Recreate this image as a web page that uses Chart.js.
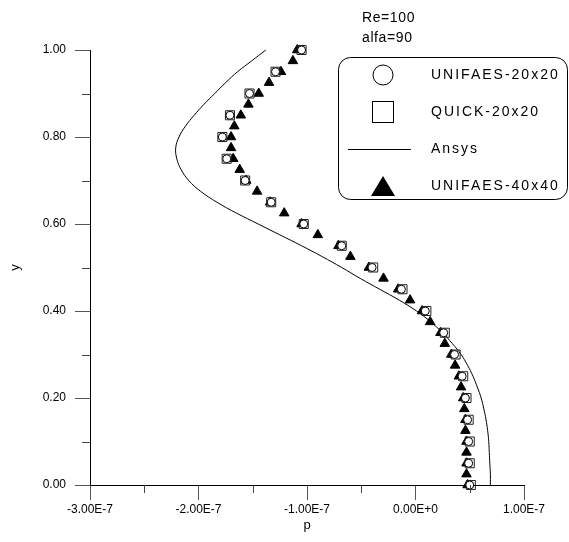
<!DOCTYPE html>
<html>
<head>
<meta charset="utf-8">
<script src="https://cdn.jsdelivr.net/npm/chart.js@4/dist/chart.umd.min.js"></script>
<style>
html, body { margin: 0; padding: 0; background: #fff; }
#wrap { position: relative; width: 569px; height: 542px; }
</style>
</head>
<body>
<div id="wrap"><canvas id="profile"></canvas></div>
<script>
// p values are in units of 1E-7
const Y_COARSE = [0, 0.05, 0.10, 0.15, 0.20, 0.25, 0.30, 0.35, 0.40, 0.45, 0.50,
    0.55, 0.60, 0.65, 0.70, 0.75, 0.80, 0.85, 0.90, 0.95, 1.00];
const P_UNIFAES_20 = [0.50, 0.49, 0.49, 0.48, 0.46, 0.43, 0.36, 0.26, 0.09, -0.13, -0.40,
    -0.68, -1.03, -1.33, -1.57, -1.74, -1.78, -1.71, -1.53, -1.29, -1.05];
const P_QUICK_20 = [0.51, 0.50, 0.50, 0.49, 0.47, 0.44, 0.37, 0.27, 0.10, -0.12, -0.39,
    -0.68, -1.03, -1.33, -1.57, -1.74, -1.78, -1.71, -1.53, -1.29, -1.05];

const Y_FINE = [0, 0.025, 0.05, 0.075, 0.10, 0.125, 0.15, 0.175, 0.20, 0.225, 0.25,
    0.275, 0.30, 0.325, 0.35, 0.375, 0.40, 0.425, 0.45, 0.475, 0.50,
    0.525, 0.55, 0.575, 0.60, 0.625, 0.65, 0.675, 0.70, 0.725, 0.75,
    0.775, 0.80, 0.825, 0.85, 0.875, 0.90, 0.925, 0.95, 0.975, 1.00];
const P_UNIFAES_40 = [0.48, 0.47, 0.47, 0.47, 0.47, 0.46, 0.46, 0.45, 0.44, 0.42, 0.40,
    0.365, 0.33, 0.27, 0.23, 0.135, 0.06, -0.05, -0.16, -0.295, -0.43,
    -0.60, -0.71, -0.90, -1.05, -1.21, -1.34, -1.46, -1.56, -1.62, -1.68,
    -1.70, -1.70, -1.67, -1.61, -1.54, -1.445, -1.35, -1.24, -1.13, -1.09];

const Y_ANSYS = [0, 0.025, 0.05, 0.075, 0.10, 0.125, 0.15, 0.175, 0.20, 0.225, 0.25,
    0.275, 0.30, 0.325, 0.35, 0.375, 0.40, 0.425, 0.45, 0.475, 0.50,
    0.525, 0.55, 0.575, 0.60, 0.625, 0.65, 0.675, 0.70, 0.725, 0.75,
    0.775, 0.80, 0.825, 0.85, 0.875, 0.90, 0.925, 0.95, 0.975, 1.00];
const P_ANSYS = [0.69, 0.69, 0.685, 0.68, 0.675, 0.665, 0.65, 0.63, 0.605, 0.57, 0.53,
    0.48, 0.42, 0.34, 0.25, 0.14, 0.01, -0.15, -0.33, -0.51, -0.68,
    -0.86, -1.05, -1.25, -1.45, -1.65, -1.83, -1.98, -2.09, -2.16, -2.20,
    -2.21, -2.18, -2.12, -2.04, -1.95, -1.85, -1.75, -1.64, -1.51, -1.38];

const X_TICKS = [-3, -2, -1, 0, 1];
const X_TICK_LABELS = ['-3.00E-7', '-2.00E-7', '-1.00E-7', '0.00E+0', '1.00E-7'];
const X_MINOR = [-2.5, -1.5, -0.5, 0.5];
const Y_TICKS = [0, 0.2, 0.4, 0.6, 0.8, 1.0];
const Y_TICK_LABELS = ['0.00', '0.20', '0.40', '0.60', '0.80', '1.00'];
const Y_MINOR = [0.1, 0.3, 0.5, 0.7, 0.9];

const SERIES_NAMES = ['UNIFAES-20x20', 'QUICK-20x20', 'Ansys', 'UNIFAES-40x40'];
const NOTES = ['Re=100', 'alfa=90'];

const FONT = '"Liberation Sans", Arial, sans-serif';

function pairs(xs, ys) {
    return xs.map((v, i) => ({ x: v, y: ys[i] }));
}

// minor ticks, notes and the boxed legend
const extras = {
    id: 'extras',
    afterDraw(chart) {
        const { ctx, chartArea: a, scales: { x, y } } = chart;
        ctx.save();
        ctx.strokeStyle = '#444';
        ctx.lineWidth = 1;
        ctx.beginPath();
        X_MINOR.forEach(v => {
            const px = Math.round(x.getPixelForValue(v)) + 0.5;
            ctx.moveTo(px, a.bottom);
            ctx.lineTo(px, a.bottom + 8);
        });
        Y_MINOR.forEach(v => {
            const py = Math.round(y.getPixelForValue(v)) + 0.5;
            ctx.moveTo(a.left, py);
            ctx.lineTo(a.left - 8, py);
        });
        ctx.stroke();

        ctx.fillStyle = '#000';
        ctx.font = '14px ' + FONT;
        ctx.letterSpacing = '0.6px';
        ctx.textBaseline = 'middle';
        ctx.textAlign = 'left';
        ctx.fillText(NOTES[0], 362, 18);
        ctx.fillText(NOTES[1], 362, 38);

        // legend box
        ctx.strokeStyle = '#000';
        ctx.beginPath();
        ctx.roundRect(338.5, 57.5, 229, 142, 12);
        ctx.stroke();

        const rows = [75, 112, 149, 186];
        const sx = 383;
        ctx.lineWidth = 1;
        ctx.beginPath();
        ctx.arc(sx, rows[0], 10, 0, Math.PI * 2);
        ctx.stroke();
        ctx.strokeRect(sx - 10.5, rows[1] - 10.5, 21, 21);
        ctx.beginPath();
        ctx.moveTo(348, rows[2] + 0.5);
        ctx.lineTo(411, rows[2] + 0.5);
        ctx.stroke();
        ctx.beginPath();
        ctx.moveTo(sx, rows[3] - 10);
        ctx.lineTo(sx + 12, rows[3] + 10);
        ctx.lineTo(sx - 12, rows[3] + 10);
        ctx.closePath();
        ctx.fill();

        ctx.letterSpacing = '2px';
        SERIES_NAMES.forEach((name, i) => ctx.fillText(name, 431, rows[i]));
        ctx.restore();
    }
};

const axisCommon = {
    type: 'linear',
    border: { color: '#000', width: 1 },
    grid: { drawOnChartArea: false, drawTicks: true, tickLength: 15, tickColor: '#555' },
};

new Chart(document.getElementById('profile'), {
    type: 'scatter',
    data: {
        datasets: [
            {
                label: SERIES_NAMES[0],
                data: pairs(P_UNIFAES_20, Y_COARSE),
                pointStyle: 'circle',
                pointRadius: 4,
                borderColor: '#000',
                borderWidth: 1,
                backgroundColor: '#fff',
                clip: false,
            },
            {
                label: SERIES_NAMES[1],
                data: pairs(P_QUICK_20, Y_COARSE),
                pointStyle: 'rect',
                pointRadius: 6.4,
                borderColor: '#222',
                borderWidth: 1,
                backgroundColor: 'rgba(0,0,0,0)',
                clip: false,
            },
            {
                label: SERIES_NAMES[2],
                data: pairs(P_ANSYS, Y_ANSYS),
                showLine: true,
                pointRadius: 0,
                borderColor: '#000',
                borderWidth: 1,
                tension: 0.4,
                clip: false,
            },
            {
                label: SERIES_NAMES[3],
                data: pairs(P_UNIFAES_40, Y_FINE),
                pointStyle: 'triangle',
                pointRadius: 5.5,
                borderColor: '#000',
                borderWidth: 1,
                backgroundColor: '#000',
                clip: false,
            },
        ]
    },
    options: {
        responsive: true,
        maintainAspectRatio: false,
        animation: false,
        events: [],
        layout: { padding: { top: 50, right: 45, left: 0, bottom: 0 } },
        plugins: {
            legend: { display: false },
            tooltip: { enabled: false }
        },
        scales: {
            x: {
                ...axisCommon,
                min: -3,
                max: 1,
                afterBuildTicks: s => { s.ticks = X_TICKS.map(v => ({ value: v })); },
                afterFit: s => { s.height = 57; },
                ticks: {
                    color: '#000',
                    font: { size: 12, family: FONT },
                    padding: 2,
                    maxRotation: 0,
                    autoSkip: false,
                    callback: (v, i) => X_TICK_LABELS[i]
                },
                title: {
                    display: true, text: 'p', color: '#000',
                    font: { size: 13, family: FONT },
                    padding: { top: 0, bottom: 9 }
                }
            },
            y: {
                ...axisCommon,
                min: 0,
                max: 1,
                afterBuildTicks: s => { s.ticks = Y_TICKS.map(v => ({ value: v })); },
                afterFit: s => { s.width = 90; },
                ticks: {
                    color: '#000',
                    font: { size: 12, family: FONT },
                    padding: 9,
                    autoSkip: false,
                    callback: (v, i) => Y_TICK_LABELS[i]
                },
                title: {
                    display: true, text: 'y', color: '#000',
                    font: { size: 13, family: FONT },
                    padding: { top: 8, bottom: 0 }
                }
            }
        }
    },
    plugins: [extras]
});
</script>
</body>
</html>
